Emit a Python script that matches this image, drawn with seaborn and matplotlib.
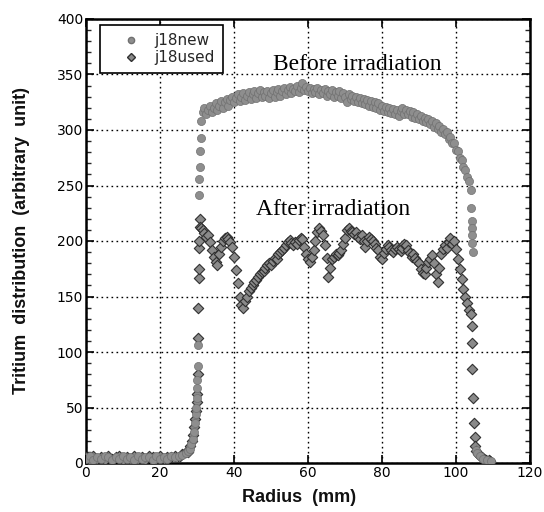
import matplotlib
matplotlib.use("Agg")
import matplotlib.pyplot as plt
import seaborn as sns
import pandas as pd
from matplotlib.ticker import MultipleLocator
from matplotlib.lines import Line2D

# ---------------- data ----------------
base_radius = [0, 1, 2, 3, 4, 5, 6, 7, 8, 9, 10, 11, 12, 13, 14, 15, 16, 17, 18, 19,
               20, 21, 22, 23, 24, 25, 26, 27]
new_base = [4, 6, 3, 5, 4, 6, 5, 3, 5, 4, 6, 4, 5, 3, 6, 4, 5, 5, 3, 6,
            4, 5, 4, 6, 5, 6, 7, 9]
used_base = [5, 3, 6, 4, 5, 3, 6, 4, 5, 6, 3, 5, 4, 6, 4, 5, 3, 6, 5, 4,
             6, 4, 5, 5, 6, 5, 8, 10]

new_rise_radius = [27.5, 28.0, 28.4, 28.8, 29.1, 29.4, 29.6, 29.8, 29.9, 30.0,
                   30.1, 30.2, 30.4, 30.55, 30.65, 30.75, 30.85, 30.95]
new_rise = [11, 13, 17, 22, 28, 36, 44, 50, 59, 68,
            75, 87, 106, 241, 256, 267, 281, 293]

used_rise_radius = [27.6, 28.1, 28.6, 29.0, 29.3, 29.5, 29.7, 29.9, 30.0, 30.15,
                    30.3, 30.4, 30.45, 30.5, 30.55, 30.6, 30.7, 30.85]
used_rise = [10, 15, 20, 25, 32, 40, 47, 55, 62, 80,
             113, 140, 167, 175, 194, 200, 220, 213]

plateau_radius = [
    31.0, 31.5, 32.0, 32.5, 33.0, 33.5, 34.0, 34.5, 35.0, 35.5,
    36.0, 36.5, 37.0, 37.5, 38.0, 38.5, 39.0, 39.5, 40.0, 40.5,
    41.0, 41.5, 42.0, 42.5, 43.0, 43.5, 44.0, 44.5, 45.0, 45.5,
    46.0, 46.5, 47.0, 47.5, 48.0, 48.5, 49.0, 49.5, 50.0, 50.5,
    51.0, 51.5, 52.0, 52.5, 53.0, 53.5, 54.0, 54.5, 55.0, 55.5,
    56.0, 56.5, 57.0, 57.5, 58.0, 58.5, 59.0, 59.5, 60.0, 60.5,
    61.0, 61.5, 62.0, 62.5, 63.0, 63.5, 64.0, 64.5, 65.0, 65.5,
    66.0, 66.5, 67.0, 67.5, 68.0, 68.5, 69.0, 69.5, 70.0, 70.5,
    71.0, 71.5, 72.0, 72.5, 73.0, 73.5, 74.0, 74.5, 75.0, 75.5,
    76.0, 76.5, 77.0, 77.5, 78.0, 78.5, 79.0, 79.5, 80.0, 80.5,
    81.0, 81.5, 82.0, 82.5, 83.0, 83.5, 84.0, 84.5, 85.0, 85.5,
    86.0, 86.5, 87.0, 87.5, 88.0, 88.5, 89.0, 89.5, 90.0, 90.5,
    91.0, 91.5, 92.0, 92.5, 93.0, 93.5, 94.0, 94.5, 95.0, 95.5,
    96.0, 96.5, 97.0, 97.5, 98.0, 98.5, 99.0, 99.5, 100.0, 100.5,
    101.0, 101.5, 102.0, 102.5, 103.0, 103.5]

new_plateau = [
    308, 316, 320, 314, 318, 322, 316, 320, 324, 318,
    322, 326, 320, 325, 328, 322, 327, 330, 325, 329,
    332, 326, 330, 333, 327, 331, 334, 328, 332, 335,
    329, 333, 336, 330, 334, 331, 335, 329, 333, 336,
    330, 334, 337, 331, 335, 338, 332, 336, 339, 333,
    337, 335, 340, 334, 338, 342, 336, 339, 335, 338,
    333, 337, 334, 338, 332, 336, 333, 337, 331, 335,
    332, 336, 330, 334, 331, 335, 329, 333, 330, 325,
    332, 328, 331, 326, 330, 325, 329, 324, 328, 323,
    327, 322, 326, 321, 325, 320, 324, 318, 322, 317,
    321, 316, 320, 315, 319, 314, 318, 313, 317, 320,
    314, 318, 314, 317, 312, 316, 311, 314, 310, 313,
    308, 311, 307, 310, 305, 308, 303, 306, 301, 304,
    298, 301, 296, 298, 292, 294, 288, 288, 282, 281,
    275, 273, 267, 264, 258, 254]

used_plateau = [
    212, 210, 207, 204, 205, 199, 192, 186, 181, 178,
    188, 195, 200, 203, 204, 202, 199, 195, 186, 174,
    162, 150, 142, 140, 146, 150, 155, 158, 160, 163,
    165, 168, 170, 172, 173, 176, 178, 180, 178, 182,
    185, 184, 188, 190, 192, 194, 196, 199, 201, 198,
    196, 199, 197, 201, 203, 202, 195, 188, 184, 181,
    186, 192, 200, 208, 212, 209, 205, 196, 185, 168,
    176, 184, 186, 188, 187, 189, 192, 197, 203, 210,
    212, 209, 208, 206, 208, 204, 202, 205, 200, 195,
    200, 204, 202, 200, 197, 194, 192, 186, 184, 189,
    193, 196, 195, 192, 190, 193, 195, 193, 191, 194,
    197, 196, 192, 189, 186, 188, 185, 182, 180, 175,
    171, 170, 176, 181, 184, 187, 180, 170, 163, 176,
    188, 193, 196, 194, 199, 203, 197, 200, 193, 184,
    175, 166, 157, 150, 144, 138]

new_tail_radius = [104.0, 104.1, 104.2, 104.3, 104.35, 104.4, 104.5,
                   105.4, 105.8, 106.6, 107.4, 108.5, 109.5]
new_tail = [246, 230, 218, 212, 205, 198, 190, 12, 9, 6, 4, 3, 2]

used_tail_radius = [104.0, 104.2, 104.3, 104.4, 104.6, 104.8, 105.0, 105.2,
                    105.5, 105.9, 106.4, 107.0, 107.6, 108.2, 108.8, 109.3]
used_tail = [134, 123, 108, 85, 59, 36, 23, 15, 11, 8, 6, 5, 4, 3, 3, 2]

series_names = ["j18new", "j18used"]
x_ticks = [0, 20, 40, 60, 80, 100, 120]
y_ticks = [0, 50, 100, 150, 200, 250, 300, 350, 400]

df_new = pd.DataFrame({
    "radius": base_radius + new_rise_radius + plateau_radius + new_tail_radius,
    "tritium": new_base + new_rise + new_plateau + new_tail,
})
df_used = pd.DataFrame({
    "radius": base_radius + used_rise_radius + plateau_radius + used_tail_radius,
    "tritium": used_base + used_rise + used_plateau + used_tail,
})

# ---------------- plot ----------------
sns.set_theme(style="ticks")
plt.rcParams["font.family"] = ["DejaVu Sans"]

fig = plt.figure(figsize=(5.44, 5.12), dpi=100)
ax = fig.add_axes([86 / 544, 1 - 463 / 512, 444 / 544, 444 / 512])

new_face, new_edge = "#8e8e8e", "#707070"
used_face, used_edge = "#8a8a8a", "#303030"

sns.scatterplot(data=df_used, x="radius", y="tritium", ax=ax, marker="D", s=28,
                color=used_face, edgecolor=used_edge, linewidth=0.8,
                legend=False, zorder=3)
sns.scatterplot(data=df_new, x="radius", y="tritium", ax=ax, marker="o", s=34,
                color=new_face, edgecolor=new_edge, linewidth=0.5,
                legend=False, zorder=4)

ax.set_xlim(0, 120)
ax.set_ylim(0, 400)
ax.set_xticks(x_ticks)
ax.set_yticks(y_ticks)
ax.yaxis.set_minor_locator(MultipleLocator(10))
ax.set_axisbelow(True)
ax.grid(True, which="major", color="black", linestyle=(0, (1.2, 2.4)), linewidth=1.0)

ax.tick_params(axis="both", which="major", direction="in", top=True, right=True,
               length=6, width=1.2, labelsize=10, pad=2, colors="black")
ax.tick_params(axis="y", which="minor", direction="in", left=True, right=True,
               length=3.5, width=1.0)
for sp in ax.spines.values():
    sp.set_linewidth(1.8)
    sp.set_color("black")

ax.set_xlabel("Radius  (mm)", fontsize=13, fontweight="bold",
              family="Liberation Sans", color="#111111")
ax.xaxis.label.set_va("center")
ax.xaxis.set_label_coords(0.48, (463 - 497) / 444)
ax.set_ylabel("Tritium  distribution  (arbitrary  unit)", fontsize=13,
              fontweight="bold", family="Liberation Sans", color="#111111")
ax.yaxis.label.set_va("center")
ax.yaxis.set_label_coords((22 - 86) / 444, 0.5)

ax.text(73.3, 354, "Before irradiation", family="Liberation Serif", fontsize=17,
        ha="center", va="baseline", color="black", zorder=5)
ax.text(66.8, 223, "After irradiation", family="Liberation Serif", fontsize=17,
        ha="center", va="baseline", color="black", zorder=5)

handles = [
    Line2D([], [], marker="o", linestyle="", markerfacecolor=new_face,
           markeredgecolor=new_edge, markersize=4.5, label=series_names[0]),
    Line2D([], [], marker="D", linestyle="", markerfacecolor=used_face,
           markeredgecolor=used_edge, markersize=3.8, label=series_names[1]),
]
leg = ax.legend(handles=handles, loc="upper left", bbox_to_anchor=(0.0315, 0.9865),
                borderaxespad=0, frameon=True, fancybox=False, framealpha=1,
                edgecolor="black", fontsize=11, handletextpad=0.1,
                borderpad=0.55, labelspacing=0.1, handlelength=2.9)
leg.get_frame().set_linewidth(1.2)
leg.set_zorder(6)

fig.savefig("out.png", dpi=100)
